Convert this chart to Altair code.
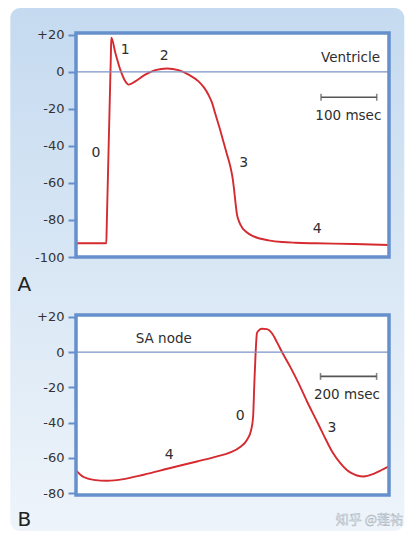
import altair as alt
import pandas as pd

# ---------------- data: ventricle action potential (panel A) ----------------
vent_t = [0, 54.4, 55.2, 62.6, 63.4, 70.6, 79.5, 88.5, 94.4, 106.5, 124.4, 142.4,
          163.4, 184.2, 202.2, 220, 230, 238, 244, 250, 258, 265, 271, 277, 281, 284,
          286.5, 289, 293, 298, 306, 316, 330, 346, 370, 394, 430, 500, 562]
vent_v = [-92.6, -92.6, -83, 9, 18.4, 10.3, 1.2, -5.1, -6.9, -5.1, -1.5, 0.9,
          1.8, 0.9, -1.5, -5.1, -8.5, -12.5, -16.5, -22.5, -30.5, -38, -44.5, -51, -57, -64,
          -71, -77, -81, -84, -86.5, -88.5, -90, -91, -91.9, -92.3, -92.6, -93, -93.5]
vent_label_text = ["0", "1", "2", "3", "4"]
vent_label_t = [36, 88.5, 158.5, 301, 433]
vent_label_v = [-44, 12, 8.4, -49.3, -85]
vent_name = ["Ventricle"]
vent_name_t = [546]
vent_name_v = [7.6]
vent_bar_t = [440, 540]
vent_bar_v = [-13.7, -13.7]
vent_bar_text = ["100 msec"]
vent_bar_text_t = [489]
vent_bar_text_v = [-24]
vent_ticks = [-100, -80, -60, -40, -20, 0, 20]

# ---------------- data: SA node action potential (panel B) ----------------
sa_t = [0, 27.6, 64, 113, 173, 246, 343, 440, 513, 561, 597, 622, 637, 644, 648,
        653, 658, 664, 676, 694, 713, 731, 749, 779, 809, 840, 870, 900, 931, 961,
        997, 1046, 1082, 1113, 1137]
sa_v = [-67, -70.8, -72.4, -72.9, -72, -69.5, -65.7, -62, -59.1, -56.9, -53.8,
        -49.7, -44, -36.5, -19.5, -0.6, 10.8, 12.2, 13.2, 13, 10.5, 5.5, 0.0, -8.4,
        -17.6, -28, -37.4, -46.9, -56.3, -62.9, -68.2, -70.5, -69, -66.7, -64.8]
sa_label_text = ["4", "0", "3"]
sa_label_t = [339, 597, 931]
sa_label_v = [-58.2, -36.5, -43]
sa_name = ["SA node"]
sa_name_t = [319]
sa_name_v = [7.4]
sa_bar_t = [889, 1093]
sa_bar_v = [-13.8, -13.8]
sa_bar_text = ["200 msec"]
sa_bar_text_t = [985]
sa_bar_text_v = [-24.2]
sa_ticks = [-80, -60, -40, -20, 0, 20]

panel_letters = ["A", "B"]
watermark = "知乎 @莲祐"

RED = "#d42a30"
BLUE = "#6690cc"
ZERO = "#7d93c6"
TXT = "#2e2e2e"
FONT = "DejaVu Sans"
one = pd.DataFrame({"k": [0]})


def panel(t, v, ltxt, lt, lv, name, nt, nv, bt, bv, btxt, btt, btv, ticks,
          xdom, ydom, W, H, letter, letter_y, extra=None, bg=False):
    xs = alt.Scale(domain=xdom, nice=False, zero=False)
    ys = alt.Scale(domain=ydom, nice=False, zero=False)
    ax = alt.Axis(
        values=ticks, title=None, grid=False, domain=False, zindex=1,
        labelOverlap=False, labelBound=False, labelFlush=False,
        labelExpr="datum.value > 0 ? '+' + datum.value : '' + datum.value",
        labelFont=FONT, labelFontSize=13, labelColor="#333333", labelPadding=4,
        tickColor=BLUE, tickSize=8, tickWidth=2)
    Xn = alt.X("t:Q", scale=xs, axis=None)
    Yn = alt.Y("v:Q", scale=ys, axis=ax)
    layers = []
    if bg:
        layers.append(alt.Chart(one).mark_rect(
            cornerRadius=10,
            fill=alt.Gradient(gradient="linear",
                              stops=[alt.GradientStop(color="#c5daf0", offset=0),
                                     alt.GradientStop(color="#d9e7f5", offset=0.5),
                                     alt.GradientStop(color="#eef4fa", offset=1)],
                              x1=0, x2=0, y1=0, y2=1)).encode(
            x=alt.value(-65.7), x2=alt.value(328.3), y=alt.value(-25), y2=alt.value(498)))
    layers.append(alt.Chart(one).mark_rect(fill="white").encode(
        x=alt.value(0), x2=alt.value(W), y=alt.value(0), y2=alt.value(H)))
    layers.append(alt.Chart(pd.DataFrame({"t": t, "v": v})).mark_line(
        color=RED, strokeWidth=1.9, interpolate="monotone").encode(x=Xn, y=Yn))
    layers.append(alt.Chart(pd.DataFrame({"v": [0]})).mark_rule(
        color=ZERO, strokeWidth=1.2).encode(y=Yn))
    layers.append(alt.Chart(one).mark_rect(
        filled=False, stroke=BLUE, strokeWidth=3.5).encode(
        x=alt.value(0), x2=alt.value(W), y=alt.value(0), y2=alt.value(H)))
    layers.append(alt.Chart(pd.DataFrame({"t": lt, "v": lv, "s": ltxt})).mark_text(
        font=FONT, fontSize=14, color=TXT).encode(x=Xn, y=Yn, text="s:N"))
    layers.append(alt.Chart(pd.DataFrame({"t": nt, "v": nv, "s": name})).mark_text(
        font=FONT, fontSize=13.5, color=TXT,
        align="right" if bg else "center").encode(x=Xn, y=Yn, text="s:N"))
    layers.append(alt.Chart(pd.DataFrame({"t": [bt[0]], "t2": [bt[1]], "v": [bv[0]]})).mark_rule(
        color="#555555", strokeWidth=1.6).encode(x=Xn, x2="t2:Q", y=Yn))
    layers.append(alt.Chart(pd.DataFrame({"t": bt, "v": bv})).mark_tick(
        orient="vertical", color="#555555", size=7, thickness=1.6).encode(x=Xn, y=Yn))
    layers.append(alt.Chart(pd.DataFrame({"t": btt, "v": btv, "s": btxt})).mark_text(
        font=FONT, fontSize=13.5, color=TXT).encode(x=Xn, y=Yn, text="s:N"))
    layers.append(alt.Chart(pd.DataFrame({"s": [letter]})).mark_text(
        font=FONT, fontSize=20, color="#222222", align="left", baseline="middle").encode(
        x=alt.value(-58.5), y=alt.value(letter_y), text="s:N"))
    if extra is not None:
        layers.append(extra)
    return alt.layer(*layers).properties(width=W, height=H)


wm = alt.Chart(pd.DataFrame({"s": [watermark]})).mark_text(
    font="Noto Sans CJK SC", fontSize=13, fill="#f7f9fc", stroke="#aab4c0",
    strokeWidth=0.5, align="right", baseline="middle").encode(
    x=alt.value(327), y=alt.value(205), text="s:N")

top = panel(vent_t, vent_v, vent_label_text, vent_label_t, vent_label_v,
            vent_name, vent_name_t, vent_name_v, vent_bar_t, vent_bar_v,
            vent_bar_text, vent_bar_text_t, vent_bar_text_v, vent_ticks,
            [0, 562], [-100, 21], 313, 224, panel_letters[0], 251.7, bg=True)
bottom = panel(sa_t, sa_v, sa_label_text, sa_label_t, sa_label_v,
               sa_name, sa_name_t, sa_name_v, sa_bar_t, sa_bar_v,
               sa_bar_text, sa_bar_text_t, sa_bar_text_v, sa_ticks,
               [0, 1138], [-81, 21], 313, 180, panel_letters[1], 205, extra=wm)

chart = alt.vconcat(top, bottom, spacing=58, bounds="flush",
                    padding={"left": 2, "top": 0, "right": 0, "bottom": 0},
                    background="white").configure_view(
    strokeWidth=0).configure_axis(labelOverlap=False)

chart.save("out.html", embed_options={"renderer": "svg", "actions": False})
